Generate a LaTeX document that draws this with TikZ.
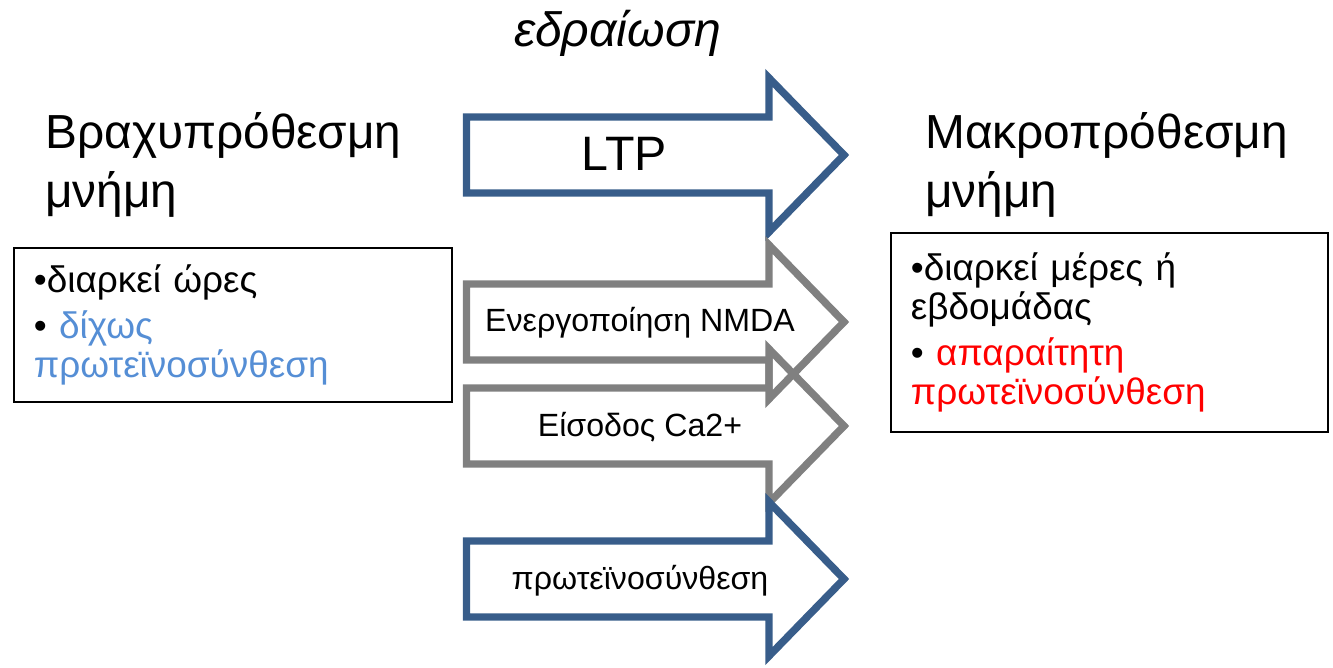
\documentclass[tikz,border=0pt]{standalone}
\usepackage{fontspec}
\setmainfont{Liberation Sans}
\usepackage{tikz}
\usepackage{xcolor}
\definecolor{cArrBlue}{RGB}{56,93,138}
\definecolor{cArrGray}{RGB}{128,128,128}
\definecolor{cTxtBlue}{RGB}{85,142,213}
\definecolor{cTxtRed}{RGB}{255,0,0}
\tikzset{
  headtext/.style={anchor=base west,align=left,inner sep=0pt,
                   font=\fontsize{27.2}{34}\selectfont},
  titletext/.style={anchor=base,inner sep=0pt,
                    font=\fontsize{27.4}{34}\selectfont\itshape},
  ltptext/.style={anchor=base,inner sep=0pt,
                  font=\fontsize{27.5}{32}\selectfont},
  arrtext/.style={anchor=base,inner sep=0pt,
                  font=\fontsize{18.3}{22}\selectfont},
  infobox/.style={rectangle,draw=black,line width=1.1pt,anchor=north west,
                  align=left,inner xsep=0.4cm,inner ysep=0pt,
                  font=\fontsize{21}{22.1}\selectfont},
  bluearr/.style={draw=cArrBlue,line width=4.25pt},
  grayarr/.style={draw=cArrGray,line width=4.25pt}
}
% block arrow: style, centre line y
\newcommand{\blockarr}[2]{%
  \draw[#1] (466.5,{#2-38}) -- (769,{#2-38}) -- (769,{#2-77})
    -- (844,#2) -- (769,{#2+77}) -- (769,{#2+38}) -- (466.5,{#2+38}) -- cycle;}

\begin{document}
\begin{tikzpicture}[x=0.02cm,y=-0.02cm]
  \useasboundingbox (0,0) rectangle (1333,668);

  % Title
  \node[titletext] (consol) at (617.5,47) {εδραίωση};

  % Headings (anchored on the last line)
  \node[headtext] (shortmem) at (45,208) {Βραχυπρόθεσμη\\μνήμη};
  \node[headtext] (longmem) at (925,208) {Μακροπρόθεσμη\\μνήμη};

  % Boxes
  \node[infobox,text width=7.96cm,minimum width=8.76cm,minimum height=3.08cm]
      (shortbox) at (13,247)
      {•διαρκεί ώρες\\[4.5pt]%
       • {\color{cTxtBlue}δίχως}\\
       {\color{cTxtBlue}πρωτεϊνοσύνθεση}};
  \node[infobox,text width=7.94cm,minimum width=8.74cm,minimum height=3.98cm]
      (longbox) at (890,232)
      {•διαρκεί μέρες ή\\
       εβδομάδας\\[4.5pt]%
       • {\color{cTxtRed}απαραίτητη}\\
       {\color{cTxtRed}πρωτεϊνοσύνθεση}};

  % Block arrows
  \blockarr{bluearr}{155}
  \blockarr{grayarr}{322}
  \blockarr{grayarr}{426}
  \blockarr{bluearr}{579}

  % Arrow labels
  \node[ltptext] (ltp) at (624.5,171) {LTP};
  \node[arrtext] (nmda) at (640,332) {Ενεργοποίηση NMDA};
  \node[arrtext] (calc) at (640,437) {Είσοδος Ca2+};
  \node[arrtext] (prot) at (640,590) {πρωτεϊνοσύνθεση};

\end{tikzpicture}
\end{document}
